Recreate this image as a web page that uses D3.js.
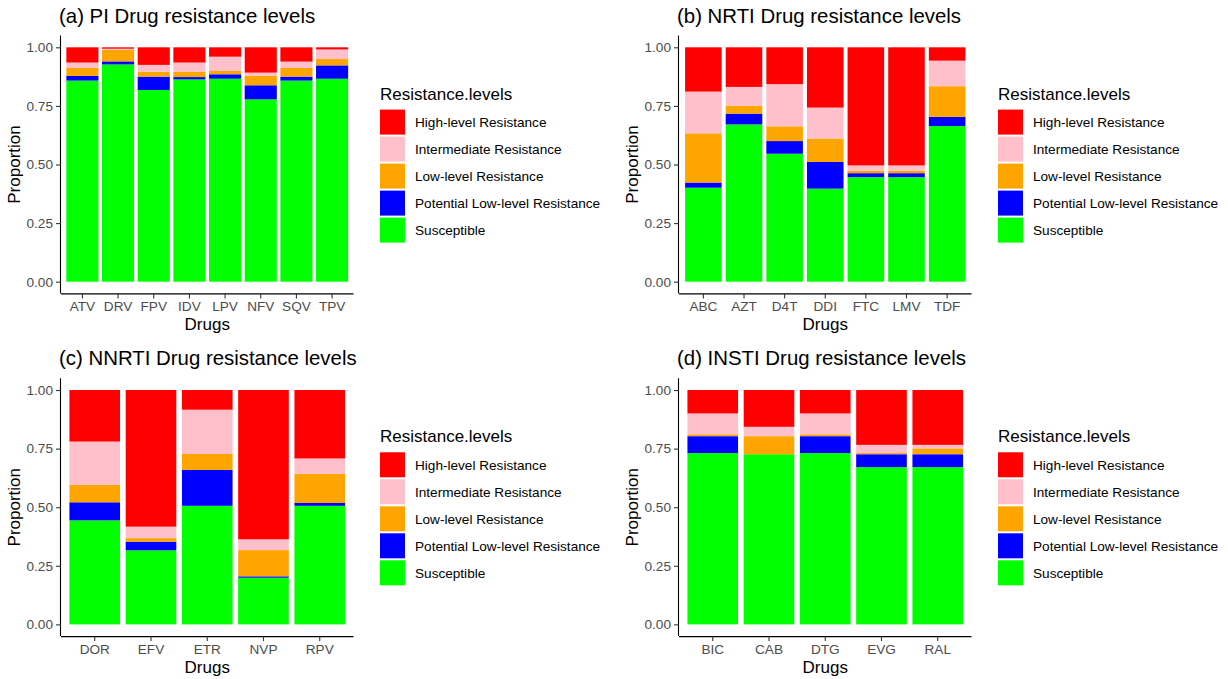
<!DOCTYPE html>
<html>
<head>
<meta charset="utf-8">
<script src="https://cdn.jsdelivr.net/npm/d3@7"></script>
<style>
  html, body { margin: 0; padding: 0; background: #fff; }
  svg { display: block; font-family: "Liberation Sans", Arial, Helvetica, sans-serif; }
</style>
</head>
<body>
<svg id="chart" width="1228" height="679"></svg>
<script>
// ---- Data ----
const levelNames = ["High-level Resistance", "Intermediate Resistance", "Low-level Resistance", "Potential Low-level Resistance", "Susceptible"];
const levelColors = ["#FF0000", "#FFC0CB", "#FFA500", "#0000FF", "#00FF00"];
const yTicks = [0, 0.25, 0.5, 0.75, 1.0];

const piDrugs = ["ATV", "DRV", "FPV", "IDV", "LPV", "NFV", "SQV", "TPV"];
const piSusceptible = [0.858, 0.927, 0.818, 0.863, 0.866, 0.778, 0.858, 0.866];
const piPotential   = [0.020, 0.013, 0.057, 0.010, 0.019, 0.060, 0.017, 0.057];
const piLow         = [0.035, 0.049, 0.021, 0.023, 0.014, 0.041, 0.037, 0.027];
const piIntermediate= [0.022, 0.005, 0.029, 0.039, 0.061, 0.013, 0.027, 0.041];
const piHigh        = [0.065, 0.006, 0.075, 0.065, 0.040, 0.108, 0.061, 0.009];

const nrtiDrugs = ["ABC", "AZT", "D4T", "DDI", "FTC", "LMV", "TDF"];
const nrtiSusceptible = [0.401, 0.671, 0.546, 0.397, 0.446, 0.446, 0.664];
const nrtiPotential   = [0.022, 0.046, 0.054, 0.114, 0.017, 0.017, 0.039];
const nrtiLow         = [0.210, 0.034, 0.063, 0.100, 0.011, 0.011, 0.131];
const nrtiIntermediate= [0.178, 0.080, 0.180, 0.132, 0.022, 0.022, 0.109];
const nrtiHigh        = [0.189, 0.169, 0.157, 0.257, 0.504, 0.504, 0.057];

const nnrtiDrugs = ["DOR", "EFV", "ETR", "NVP", "RPV"];
const nnrtiSusceptible = [0.444, 0.316, 0.506, 0.199, 0.506];
const nnrtiPotential   = [0.077, 0.037, 0.153, 0.006, 0.012];
const nnrtiLow         = [0.074, 0.015, 0.068, 0.112, 0.125];
const nnrtiIntermediate= [0.185, 0.049, 0.189, 0.046, 0.065];
const nnrtiHigh        = [0.220, 0.583, 0.084, 0.637, 0.292];

const instiDrugs = ["BIC", "CAB", "DTG", "EVG", "RAL"];
const instiSusceptible = [0.731, 0.726, 0.731, 0.671, 0.671];
const instiPotential   = [0.072, 0.000, 0.072, 0.055, 0.055];
const instiLow         = [0.008, 0.077, 0.008, 0.005, 0.025];
const instiIntermediate= [0.089, 0.040, 0.089, 0.035, 0.015];
const instiHigh        = [0.100, 0.157, 0.100, 0.234, 0.234];

// ---- Build panels ----
const panels = [
  { title: "(a) PI Drug resistance levels", drugs: piDrugs,
    series: [piSusceptible, piPotential, piLow, piIntermediate, piHigh], col: 0, row: 0 },
  { title: "(b) NRTI Drug resistance levels", drugs: nrtiDrugs,
    series: [nrtiSusceptible, nrtiPotential, nrtiLow, nrtiIntermediate, nrtiHigh], col: 1, row: 0 },
  { title: "(c) NNRTI Drug resistance levels", drugs: nnrtiDrugs,
    series: [nnrtiSusceptible, nnrtiPotential, nnrtiLow, nnrtiIntermediate, nnrtiHigh], col: 0, row: 1 },
  { title: "(d) INSTI Drug resistance levels", drugs: instiDrugs,
    series: [instiSusceptible, instiPotential, instiLow, instiIntermediate, instiHigh], col: 1, row: 1 }
];

// stacking order bottom -> top
const stackKeys = ["Susceptible", "Potential Low-level Resistance", "Low-level Resistance", "Intermediate Resistance", "High-level Resistance"];
const colorScale = d3.scaleOrdinal().domain(levelNames).range(levelColors);

const svg = d3.select("#chart");

const colX = [61, 679];
const rowY = [35.6, 378.3];
const pw = 292.5, ph = 257.8;

panels.forEach(p => {
  const x0 = colX[p.col], y0 = rowY[p.row];
  const g = svg.append("g").attr("transform", `translate(${x0},${y0})`);

  const rows = p.drugs.map((d, i) => {
    const o = { drug: d };
    stackKeys.forEach((k, j) => o[k] = p.series[j][i]);
    return o;
  });
  const stacked = d3.stack().keys(stackKeys)(rows);

  const x = d3.scaleBand().domain(p.drugs).range([0, pw]).paddingInner(0.1).paddingOuter(0.15);
  const y = d3.scaleLinear().domain([-0.05, 1.05]).range([ph, 0]);

  g.selectAll("g.layer").data(stacked).enter().append("g")
    .attr("fill", d => colorScale(d.key))
    .selectAll("rect").data(d => d).enter().append("rect")
    .attr("x", d => x(d.data.drug))
    .attr("width", x.bandwidth())
    .attr("y", d => y(d[1]))
    .attr("height", d => Math.max(0, y(d[0]) - y(d[1])));

  // axes
  const yAxis = d3.axisLeft(y).tickValues(yTicks).tickFormat(d3.format(".2f")).tickSize(5).tickPadding(3);
  const ya = g.append("g").call(yAxis);
  const xAxis = d3.axisBottom(x).tickSize(5).tickPadding(3);
  const xa = g.append("g").attr("transform", `translate(0,${ph})`).call(xAxis);
  [ya, xa].forEach(a => {
    a.select(".domain").attr("stroke", "#000").attr("stroke-width", 1.1);
    a.selectAll(".tick line").attr("stroke", "#333").attr("stroke-width", 1.1);
    a.selectAll(".tick text").attr("fill", "#4D4D4D").style("font-size", "13.6px")
      .style("font-family", "'Liberation Sans', Arial, sans-serif");
  });
  xa.select(".domain").attr("d", `M0,0.5H${pw}`);
  ya.select(".domain").attr("d", `M-0.5,0V${ph}`);

  // titles
  svg.append("text").attr("x", x0 - 2).attr("y", y0 - 13)
    .style("font-size", "20.4px").attr("fill", "#000").text(p.title);
  svg.append("text").attr("x", x0 + pw / 2).attr("y", y0 + ph + 37)
    .attr("text-anchor", "middle").style("font-size", "17px").text("Drugs");
  svg.append("text")
    .attr("transform", `translate(${x0 - 41},${y0 + ph / 2}) rotate(-90)`)
    .attr("text-anchor", "middle").style("font-size", "17px").text("Proportion");

  // legend
  const lx = x0 + 319, ly = y0 + 58;
  const lg = svg.append("g").attr("transform", `translate(${lx},${ly})`);
  lg.append("text").attr("x", 0).attr("y", 0).attr("dy", "0.35em")
    .style("font-size", "17px").text("Resistance.levels");
  levelNames.forEach((name, i) => {
    lg.append("rect").attr("x", 0).attr("y", 16 + i * 27).attr("width", 25).attr("height", 25)
      .attr("fill", colorScale(name));
    lg.append("text").attr("x", 35).attr("y", 16 + i * 27 + 12.5).attr("dy", "0.35em")
      .style("font-size", "13.6px").text(name);
  });
});
</script>
</body>
</html>
